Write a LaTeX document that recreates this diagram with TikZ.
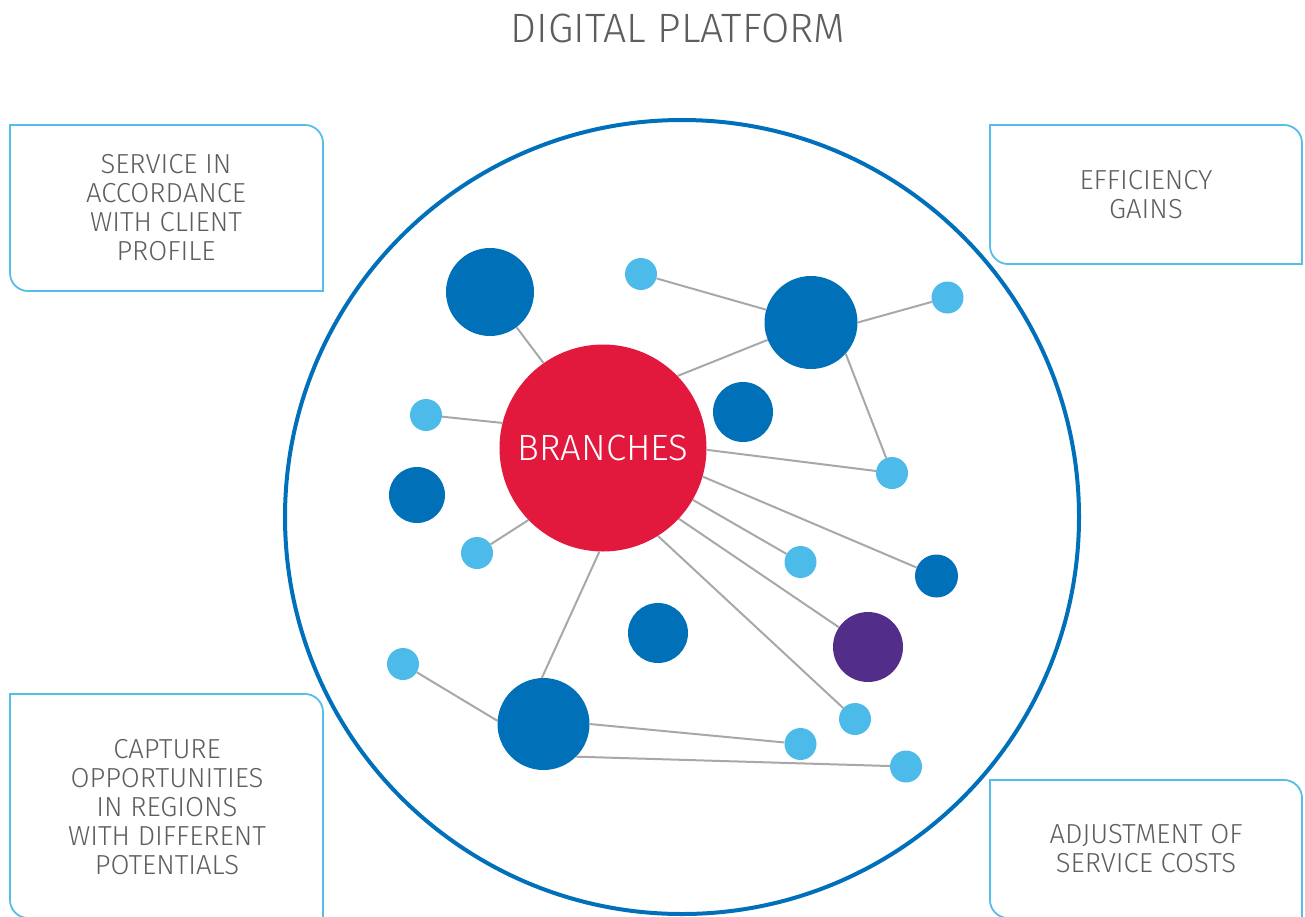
\documentclass[tikz,border=0pt]{standalone}
\usepackage{fontspec}
\setmainfont{Fira Sans Light}
\usetikzlibrary{positioning}

\definecolor{framecol}{HTML}{0070BA}
\definecolor{hubcol}{HTML}{E2183D}
\definecolor{darkcol}{HTML}{0070B8}
\definecolor{lightcol}{HTML}{4DBBEA}
\definecolor{purplecol}{HTML}{522D8A}
\definecolor{linkcol}{HTML}{A8A8A8}
\definecolor{textcol}{HTML}{5E5E5E}
\definecolor{panelcol}{HTML}{56BDE9}

\begin{document}
\begin{tikzpicture}[
		x=1pt, y=-1pt,
		hub/.style={circle, fill=hubcol, inner sep=0pt, minimum size=207pt, text=white, font=\fontsize{36.5}{40}\selectfont},
		bluedot/.style={circle, fill=darkcol, inner sep=0pt, minimum size=#1},
		dot/.style={circle, fill=lightcol, inner sep=0pt, minimum size=32pt},
		link/.style={draw=linkcol, line width=2pt},
		panel/.style={draw=panelcol, line width=1.8pt},
		caption/.style={text=textcol, align=center, font=\fontsize{27.5}{29}\selectfont}
	]
	\useasboundingbox (0,0) rectangle (1305,916);
	\clip (0,0) rectangle (1305,916);

	\node[text=textcol, font=\fontsize{41}{44}\selectfont] (title) at (678,28.5) {DIGITAL PLATFORM};

	% corner panels, rounded top right and bottom left
	\draw[panel] (10,125) -- (305,125) arc[start angle=270, end angle=360, radius=18]
		-- (323,291) -- (28,291) arc[start angle=90, end angle=180, radius=18] -- cycle;
	\draw[panel] (990,125) -- (1284,125) arc[start angle=270, end angle=360, radius=18]
		-- (1302,264) -- (1008,264) arc[start angle=90, end angle=180, radius=18] -- cycle;
	\draw[panel] (10,694) -- (305,694) arc[start angle=270, end angle=360, radius=18]
		-- (323,918) -- (28,918) arc[start angle=90, end angle=180, radius=18] -- cycle;
	\draw[panel] (990,780) -- (1284,780) arc[start angle=270, end angle=360, radius=18]
		-- (1302,918) -- (1008,918) arc[start angle=90, end angle=180, radius=18] -- cycle;

	\node[caption] (profile) at (166,208) {SERVICE IN\\ACCORDANCE\\WITH CLIENT\\PROFILE};
	\node[caption] (gains) at (1146,194.5) {EFFICIENCY\\GAINS};
	\node[caption] (regions) at (167,807) {CAPTURE\\OPPORTUNITIES\\IN REGIONS\\WITH DIFFERENT\\POTENTIALS};
	\node[caption] (costs) at (1146,848.5) {ADJUSTMENT OF\\SERVICE COSTS};

	% platform ring
	\node[draw=framecol, line width=4pt, circle, minimum size=794pt, inner sep=0pt] (platform) at (682,517) {};

	% network
	\node[hub] (branches) at (603,448) {BRANCHES};
	\node[bluedot=88pt] (a) at (490,292) {};
	\node[bluedot=93pt] (b) at (811,322.5) {};
	\node[bluedot=60pt] (c) at (743,412) {};
	\node[bluedot=56pt] (d) at (417,495) {};
	\node[bluedot=60pt] (e) at (658,633) {};
	\node[bluedot=92pt] (f) at (543.5,724) {};
	\node[bluedot=43pt] (g) at (936.5,576) {};
	\node[circle, fill=purplecol, inner sep=0pt, minimum size=70pt] (p) at (868,647) {};

	\node[dot] (l1) at (641,274) {};
	\node[dot] (l2) at (947.5,297.5) {};
	\node[dot] (l3) at (426,415) {};
	\node[dot] (l4) at (892,473) {};
	\node[dot] (l5) at (477,553) {};
	\node[dot] (l6) at (800.5,562) {};
	\node[dot] (l7) at (403,664) {};
	\node[dot] (l8) at (855,719) {};
	\node[dot] (l9) at (800.5,744) {};
	\node[dot] (l10) at (906,766.5) {};

	\draw[link] (branches.125) -- (a);
	\draw[link] (branches.44) -- (b);
	\draw[link] (branches.166) -- (l3);
	\draw[link] (branches.-1) -- (l4);
	\draw[link] (branches.224) -- (l5);
	\draw[link] (branches.-30) -- (l6);
	\draw[link] (branches.-16) -- (g);
	\draw[link] (branches.-43) -- (p);
	\draw[link] (branches.-58) -- (l8);
	\draw[link] (branches.268) -- (f.92);
	\draw[link] (b) -- (l1);
	\draw[link] (b.0) -- (l2);
	\draw[link] (b.-42) -- (l4);
	\draw[link] (f.176) -- (l7);
	\draw[link] (f.0) -- (l9);
	\draw[link] (f.-45) -- (l10);
\end{tikzpicture}
\end{document}
